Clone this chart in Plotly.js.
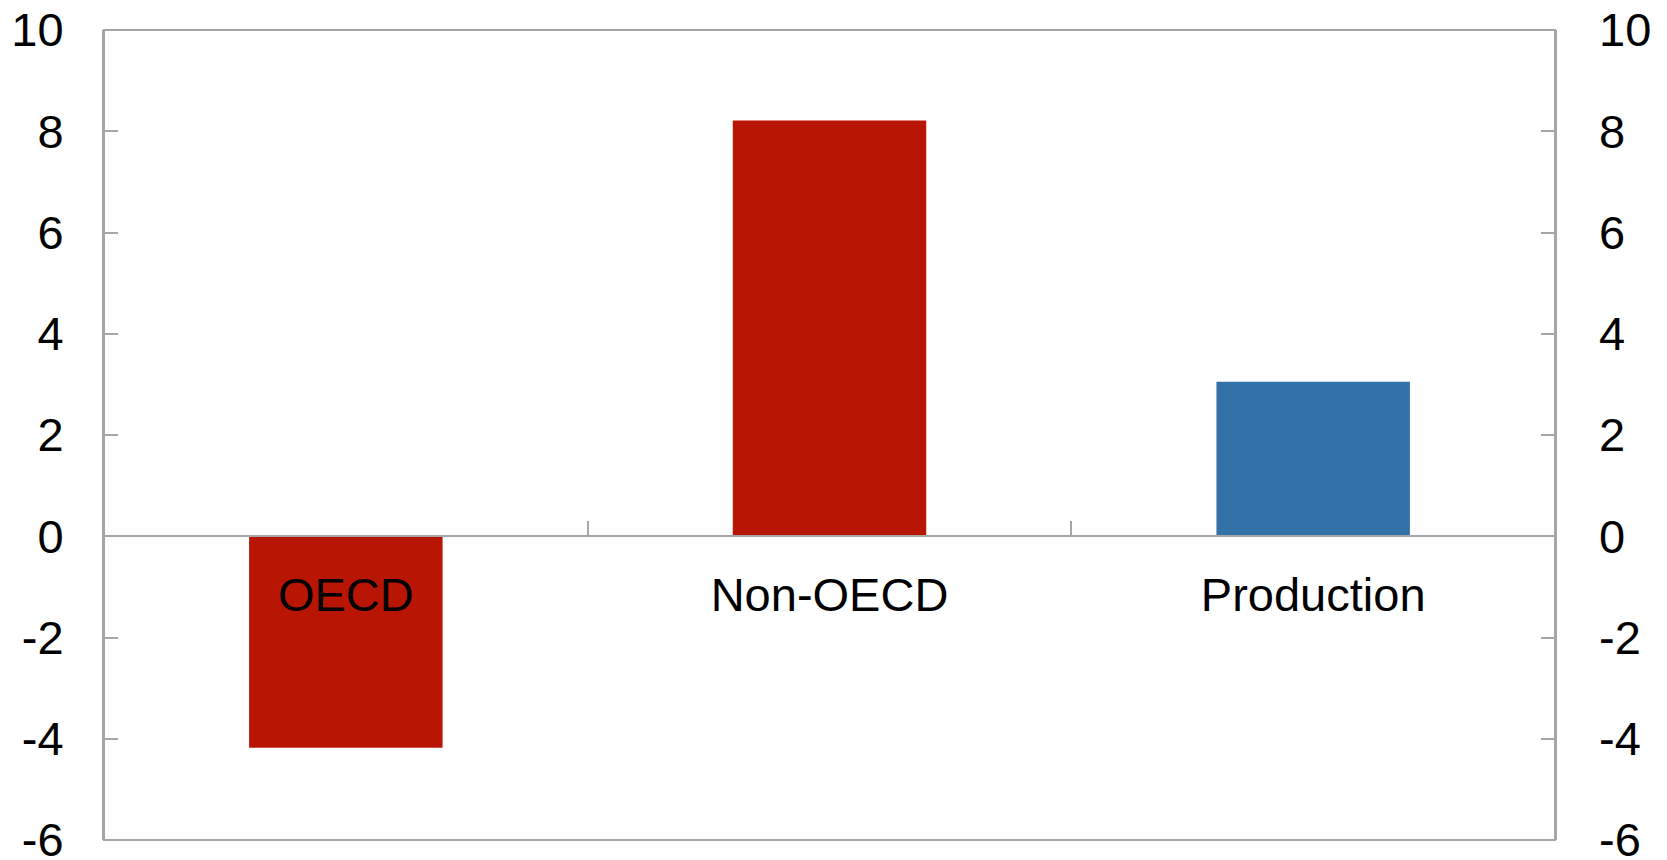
<!DOCTYPE html>
<html>
<head>
<meta charset="utf-8">
<script src="https://cdn.plot.ly/plotly-3.0.1.min.js"></script>
<style>html,body{margin:0;padding:0;background:#fff}#chart{width:1667px;height:860px}</style>
</head>
<body>
<div id="chart"></div>
<script>
const categories = ["OECD", "Non-OECD", "Production"];
const values = [-4.18, 8.21, 3.05];
const barColors = ["#B81504", "#B81504", "#3372A7"];
const yTickVals = [-6, -4, -2, 0, 2, 4, 6, 8, 10];
const yTickText = ["-6", "-4", "-2", "0", "2", "4", "6", "8", "10"];

const axisColor = "#A6A6A6";
const font = {family: "Liberation Sans, Arial, sans-serif", size: 47, color: "#000"};
const yRange = [-6, 10];

const trace = {
  type: "bar",
  x: categories,
  y: values,
  marker: {color: barColors, line: {width: 0}},
  hoverinfo: "skip"
};
// empty trace so that the right-hand axis is created
const rightAxisHolder = {type: "scatter", x: [], y: [], yaxis: "y2", hoverinfo: "skip"};

const layout = {
  width: 1667, height: 860,
  margin: {l: 104, r: 112, t: 30, b: 20},
  paper_bgcolor: "#fff", plot_bgcolor: "#fff",
  showlegend: false,
  bargap: 0.6,
  font: font,
  xaxis: {
    type: "category",
    anchor: "free", position: 0.375,
    showline: true, linecolor: axisColor, linewidth: 2,
    ticks: "inside", tickson: "boundaries", ticklen: 14, tickwidth: 2, tickcolor: axisColor,
    showgrid: false, zeroline: false,
    tickfont: font, ticklabelstandoff: 17
  },
  yaxis: {
    range: yRange, tickvals: yTickVals, ticktext: yTickText,
    showline: true, linecolor: axisColor, linewidth: 2, mirror: "ticks",
    ticks: "inside", ticklen: 14, tickwidth: 2, tickcolor: axisColor,
    showgrid: false, zeroline: false,
    tickfont: font, ticklabelstandoff: 29, ticklabeloverflow: "allow"
  },
  yaxis2: {
    overlaying: "y", side: "right", anchor: "x",
    range: yRange, tickvals: yTickVals, ticktext: yTickText,
    showline: false, ticks: "", showgrid: false, zeroline: false,
    tickfont: font, ticklabelstandoff: 43, ticklabeloverflow: "allow"
  },
  shapes: [{
    type: "rect", xref: "paper", yref: "paper", x0: 0, x1: 1, y0: 0, y1: 1,
    line: {color: axisColor, width: 2}, fillcolor: "rgba(0,0,0,0)", layer: "above"
  }]
};

Plotly.newPlot("chart", [trace, rightAxisHolder], layout, {displayModeBar: false, staticPlot: true});
</script>
</body>
</html>
